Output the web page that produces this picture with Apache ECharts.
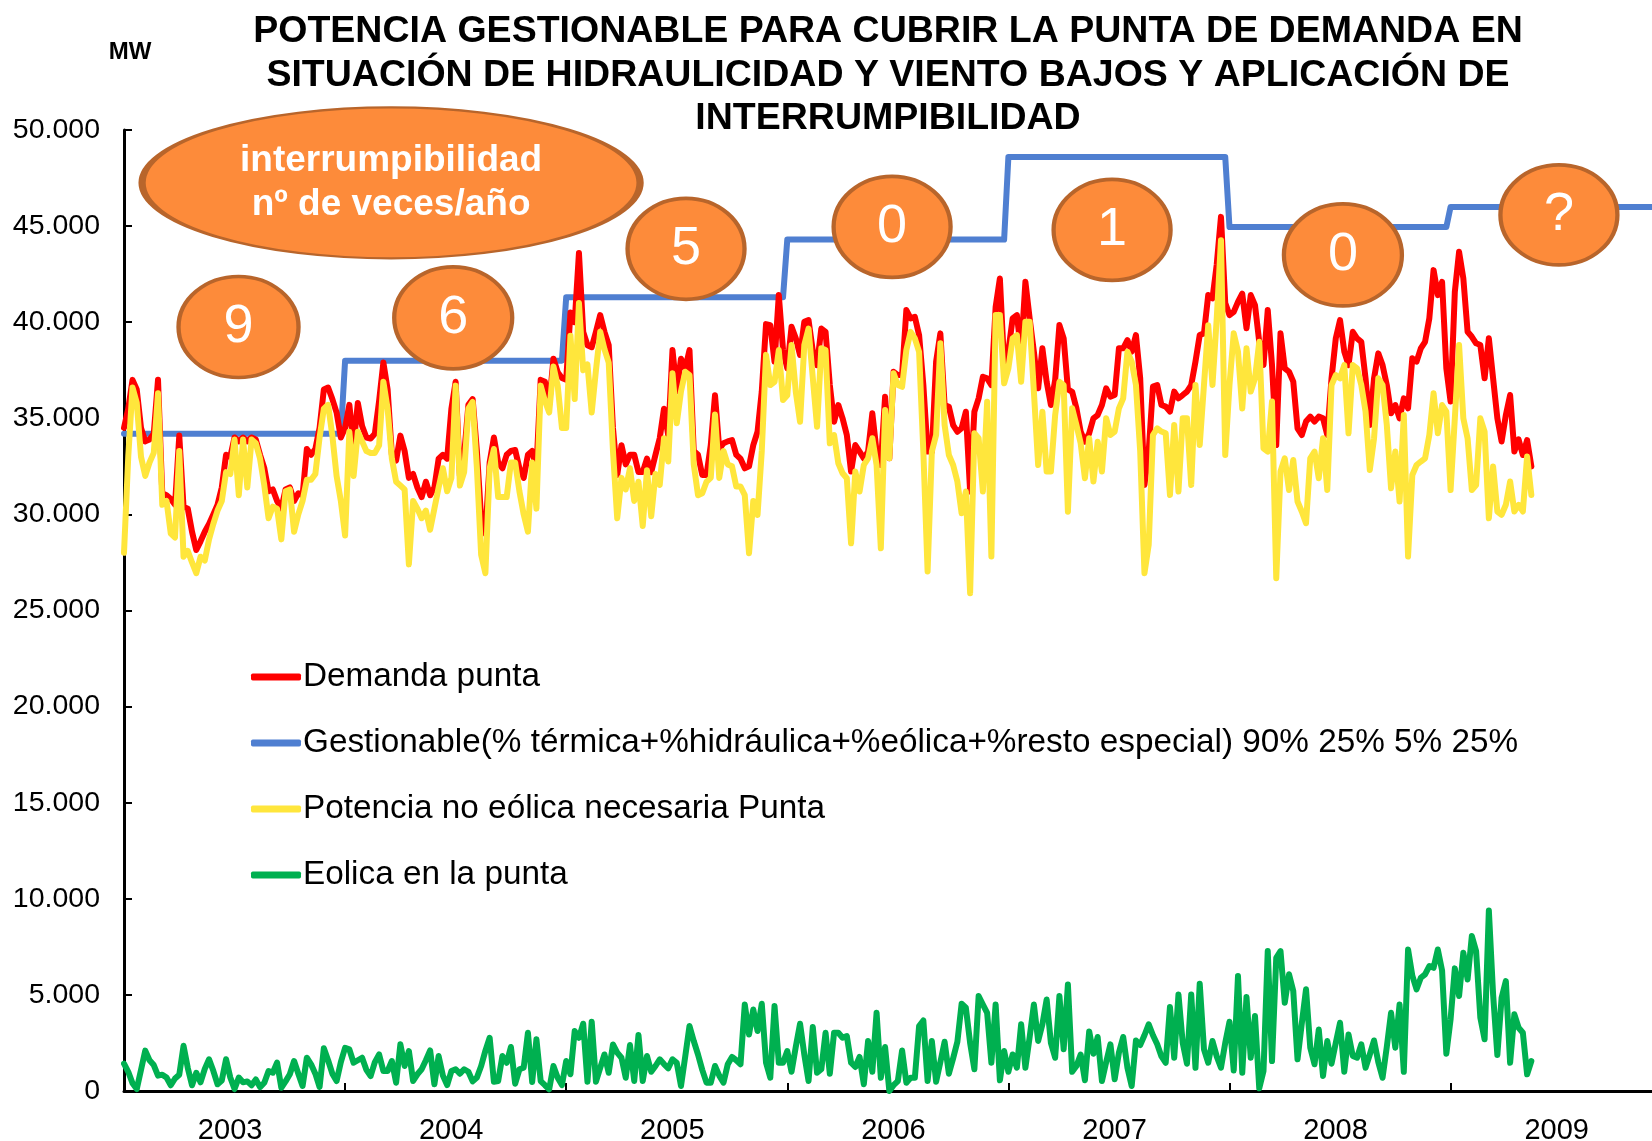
<!DOCTYPE html>
<html>
<head>
<meta charset="utf-8">
<script src="https://cdn.jsdelivr.net/npm/echarts@6/dist/echarts.min.js"></script>
<style>
html,body{margin:0;padding:0;background:#ffffff;}
#chart{width:1652px;height:1141px;}
</style>
</head>
<body>
<div id="chart"></div>
<script>
// ---------------- DATA (weekly values, first week = start of 2003) ----------------
const firstYear = 2003;
const weeksPerYear = 52;
const yearTickValues = [2004, 2005, 2006, 2007, 2008, 2009];
const yearLabelValues = [2003.48, 2004.48, 2005.48, 2006.48, 2007.48, 2008.48, 2009.48];
const yearLabels = ['2003', '2004', '2005', '2006', '2007', '2008', '2009'];

// Gestionable (step per year)
const gestionableYears = [2003, 2004, 2005, 2006, 2007, 2008, 2009];
const gestionableLevels = [34200, 38000, 41300, 44300, 48600, 44950, 46000];

// Demanda punta (MW)
const demandaPunta = [
  // 2003
  34500,35500,37000,36500,34500,33800,33900,34200,37000,31100,
  31000,30800,30500,34100,30400,30300,29100,28150,28600,29100,
  29500,30000,30500,31400,33100,33000,34000,33800,34000,33800,
  34000,33900,33100,32400,31200,31300,30700,30300,31300,31400,
  30700,31100,31000,33400,33100,33400,34500,36500,36600,36000,
  35300,34000,
  // 2004
  34500,35700,33600,35800,34600,34000,33950,34200,35900,37900,
  36500,33100,32800,34100,33300,31900,32100,31400,30900,31700,
  31000,31400,32900,33100,32900,35500,36900,32000,33100,35700,
  36000,33300,29800,29000,32700,34000,32700,32400,33100,33300,
  33350,32400,31900,33100,33300,32400,37000,36900,35700,38100,
  37400,37100,
  // 2005
  37000,40500,40000,43600,39500,38800,38700,39500,40370,39500,
  38800,34500,32050,33600,32600,33100,33100,32200,32200,32900,
  32200,33100,33960,35500,34100,38550,36400,38100,37600,38550,
  33300,33100,32050,32050,33600,36200,33400,33700,33800,33870,
  33100,32900,32400,32500,33600,34300,36400,39900,39850,37940,
  41410,38550,
  // 2006
  37600,39760,39160,38290,40020,40110,38500,37770,39670,39500,
  36730,34820,35690,35000,34130,32230,33610,33270,32920,33270,
  35260,33270,32570,36120,32920,37420,37250,37250,40630,40200,
  40280,39330,36730,33270,33270,37940,39420,35690,35600,34650,
  34300,34480,35340,31190,35340,36040,37160,37080,36730,40800,
  42270,37770,
  // 2007
  38500,40200,40370,38460,42100,40200,38460,36560,38640,36900,
  35690,36990,39850,39160,36500,36380,35520,34300,33780,34220,
  35000,35170,35690,36560,36130,36210,38640,38640,39070,38470,
  39330,37080,31530,33270,36650,36730,35690,35610,35350,36390,
  36040,36210,36390,36730,37950,39330,39420,41410,41240,43000,
  45480,41000,
  // 2008
  40370,40540,41060,41490,39680,41410,40890,38980,37770,40630,
  37770,33610,39420,37600,37420,36910,34480,34130,34830,35090,
  34830,35090,35000,34130,37080,39160,40110,38470,37770,39500,
  39160,38980,37080,34650,37080,38380,37770,36730,35260,35690,
  35000,36040,35520,38120,37950,38640,38980,40200,42710,41410,
  42100,37600,
  // 2009
  35870,41580,43660,42280,39500,39240,38900,38810,37080,39160,
  37080,35000,33790,35170,36210,33270,33900,33090,33870,32490
];

// Potencia no eólica necesaria Punta (MW)
const potenciaNoEolica = [
  // 2003
  28000,33000,36600,35800,33000,32000,32700,33200,36300,30500,
  30700,29000,28800,33300,27800,28100,27500,26940,27800,27600,
  28700,29500,30200,30700,32200,32100,33900,31000,33900,31400,
  33900,33700,32900,31500,29800,30400,30300,28700,31200,31300,
  29100,30000,30700,31800,31800,32100,34000,35500,35700,34100,
  32000,30700,
  // 2004
  28900,34300,32000,34300,33800,33300,33200,33200,33600,36900,
  35500,32900,31700,31500,31300,27400,30700,30300,29800,30200,
  29200,30300,31400,32400,31200,31900,36700,31500,32200,35500,
  35850,32400,27900,26940,32400,33400,30900,30900,30900,32700,
  32700,31200,30000,29100,32700,30300,36700,35900,35300,37700,
  36700,34500,
  // 2005
  34500,39300,36000,41000,37500,37800,35300,37500,39500,38600,
  37900,33300,29800,31900,31300,32400,30700,31700,29400,32300,
  29900,32100,31530,33960,32750,37340,34740,36400,37420,37250,
  32600,31000,31100,31700,31900,35200,31900,33300,32600,32500,
  31450,31450,31000,27980,30700,29970,33300,38300,36730,36900,
  38550,35950,
  // 2006
  36200,38810,36380,34820,38810,39670,37100,34560,38640,38550,
  33700,34130,32660,32140,31880,28500,32230,31190,32570,32920,
  33960,32570,28240,35430,32920,37340,36730,36640,38550,39500,
  39160,38460,33270,27030,33270,34130,38900,34650,33090,32570,
  31710,30060,31190,25900,34220,33960,31190,35860,27810,40370,
  40370,36820,
  // 2007
  37600,39160,39330,36900,40020,40020,36380,32570,35340,32230,
  32230,35170,36900,36730,30140,35520,34650,33700,31880,33960,
  31710,33780,32230,35000,34130,34310,35520,36040,38460,37950,
  36730,33270,26940,28420,34130,34480,34310,34220,31010,34650,
  31190,35000,35000,31530,36730,33610,36730,39840,36730,40200,
  44270,33090,
  // 2008
  36730,39420,38470,35510,38640,36390,37080,38980,33440,33270,
  35870,26680,32230,32920,31270,32830,30670,30150,29540,32920,
  33270,31880,33960,31270,36730,37250,37080,37770,34220,37770,
  37600,36730,35350,32310,33960,37080,36730,34650,31360,33270,
  30670,35170,27810,32050,32570,32750,32920,34130,36300,34220,
  35690,35350,
  // 2009
  31270,35000,38810,35000,33960,31270,31530,35000,34310,29800,
  32490,30150,29980,30500,31710,30150,30500,30150,33010,31010
];

// Eólica en la punta (MW)
const eolicaPunta = [
  // 2003
  1420,1000,400,100,1100,2100,1600,1350,800,850,
  700,300,650,850,2350,1200,300,950,450,1150,
  1650,1050,350,550,1650,700,100,700,450,500,
  300,600,200,430,1040,950,1480,170,500,870,
  1560,900,260,1730,1390,900,210,2220,1600,900,
  520,1500,
  // 2004
  2250,2170,1470,1600,1730,1100,780,1500,1900,1040,
  1040,1560,430,2430,1300,2080,520,870,1130,1600,
  2110,350,1820,800,310,1040,1130,900,1130,1000,
  500,700,1300,2100,2770,480,520,1820,1470,2290,
  380,1130,1210,3030,470,2690,520,300,90,1300,
  690,310,
  // 2005
  1560,870,3120,2770,3500,485,3600,485,1200,1900,
  950,2420,2000,1730,690,2390,520,2910,520,1820,
  1000,1300,1650,1400,1180,1650,1470,260,1800,3380,
  2600,1900,1100,433,433,1300,800,433,1390,1770,
  1600,1390,4500,2940,4240,3120,4540,1470,690,4420,
  1470,1470,
  // 2006
  2080,1000,2300,3500,1900,520,3330,950,1130,3030,
  900,3030,3030,2770,2860,1470,1250,1770,350,2600,
  1000,4070,690,2290,0,300,520,2110,433,690,
  690,3380,3670,520,2600,485,1500,2560,900,1700,
  2560,4540,4330,2500,1130,4940,4500,4070,1470,4500,
  555,2080,
  // 2007
  1000,1900,1210,3470,1210,2800,4500,2600,3470,4760,
  2500,1730,4940,2170,5540,1000,1300,1900,555,3100,
  1940,2810,520,1500,2430,610,2000,2810,1210,260,
  2630,2390,2900,3470,2900,2430,1800,1470,4370,1730,
  5020,2500,1420,5020,1210,5580,2170,1470,2600,1800,
  1210,2500,
  // 2008
  3600,1070,5980,950,4890,1730,3900,140,1040,7280,
  1560,6930,7280,4590,6070,5200,1650,3500,5290,2250,
  1390,3200,780,2600,1420,2500,3550,1000,2940,1820,
  1730,2430,1210,1900,2630,1500,690,2300,4070,2250,
  4500,1000,7360,6000,5290,5890,6070,6500,6410,7360,
  6270,1940,
  // 2009
  3730,6380,4940,7190,5800,8060,7280,3810,2690,9390,
  5020,1870,4850,5720,1470,3990,3290,3030,866,1560
];

// Annotations (interrumpibilidad: nº de veces/año)
const annotationLabels = ['interrumpibilidad\nnº de veces/año', '9', '6', '5', '0', '1', '0', '?'];
const annotationX = [2004.208, 2003.518, 2004.489, 2005.542, 2006.474, 2007.469, 2008.513, 2009.490];
const annotationY = [47250, 39750, 40230, 43820, 44960, 44800, 43500, 45580];
const annotationW = [498, 120, 118, 117, 117, 117, 118, 117];
const annotationH = [151, 101, 102, 101, 101, 101, 102, 100];

// ---------------- CHART ----------------
const FONT = '"Liberation Sans", Arial, Helvetica, sans-serif';
const xMin = 2003;
const xMax = 2009.911;

const toPoints = arr => arr.map((v, i) => [firstYear + i / weeksPerYear, v]);

const gestionablePoints = [];
gestionableYears.forEach((yr, k) => {
  const lvl = gestionableLevels[k];
  gestionablePoints.push([yr, lvl]);
  const end = (k === gestionableYears.length - 1) ? xMax : yr + (weeksPerYear - 1) / weeksPerYear;
  gestionablePoints.push([end, lvl]);
});

const markData = annotationLabels.map((lab, k) => {
  const big = k === 0;
  return {
    name: lab,
    coord: [annotationX[k], annotationY[k]],
    symbolSize: [annotationW[k], annotationH[k]],
    label: big ? {
      fontSize: 37, fontWeight: 'bold', lineHeight: 44
    } : {
      fontSize: 54, fontWeight: 'normal'
    }
  };
});

const chart = echarts.init(document.getElementById('chart'), null, {renderer: 'canvas'});

const names = [
  'Demanda punta',
  'Gestionable(% térmica+%hidráulica+%eólica+%resto especial) 90% 25% 5% 25%',
  'Potencia no eólica necesaria Punta',
  'Eolica en la punta'
];

chart.setOption({
  animation: false,
  backgroundColor: '#ffffff',
  textStyle: {fontFamily: FONT},
  title: {
    text: 'POTENCIA GESTIONABLE PARA CUBRIR LA PUNTA DE DEMANDA EN\nSITUACIÓN DE HIDRAULICIDAD Y VIENTO BAJOS Y APLICACIÓN DE\nINTERRUMPIBILIDAD',
    left: 888,
    top: 10,
    padding: 0,
    textAlign: 'center',
    textStyle: {fontFamily: FONT, fontWeight: 'bold', fontSize: 37.5, lineHeight: 43.5, color: '#000000'}
  },
  legend: {
    orient: 'vertical',
    left: 246,
    top: 654,
    itemWidth: 50,
    itemHeight: 7,
    itemGap: 30,
    icon: 'roundRect',
    data: names,
    textStyle: {fontFamily: FONT, fontSize: 33.3, lineHeight: 36, color: '#000000', padding: [0, 0, 0, -3]},
    selectedMode: false
  },
  grid: {
    left: 124, right: 0, top: 130, bottom: 50,
    containLabel: false,
    outerBoundsMode: 'none'
  },
  xAxis: {
    type: 'value',
    min: xMin,
    max: xMax,
    axisLine: {show: true, lineStyle: {color: '#000000', width: 3}},
    axisTick: {show: true, inside: true, length: 8, lineStyle: {color: '#000000', width: 2}, customValues: yearTickValues},
    axisLabel: {
      show: true,
      customValues: yearLabelValues,
      formatter: v => yearLabels[Math.floor(v) - firstYear],
      fontFamily: FONT, fontSize: 29, color: '#000000', margin: 25
    },
    splitLine: {show: false}
  },
  yAxis: {
    type: 'value',
    min: 0,
    max: 50000,
    interval: 5000,
    name: 'MW',
    nameLocation: 'end',
    nameGap: 66,
    nameTextStyle: {fontFamily: FONT, fontWeight: 'bold', fontSize: 24, color: '#000000', padding: [0, 0, 0, 12]},
    axisLine: {show: true, lineStyle: {color: '#000000', width: 3}},
    axisTick: {show: true, inside: true, length: 8, lineStyle: {color: '#000000', width: 2}},
    axisLabel: {
      fontFamily: FONT, fontSize: 28.5, color: '#000000', margin: 24,
      formatter: v => v === 0 ? '0' : (v / 1000) + '.000'
    },
    splitLine: {show: false}
  },
  series: [
    {
      name: names[1], type: 'line', data: gestionablePoints, showSymbol: false, symbol: 'none',
      color: '#4F7FD1', lineStyle: {color: '#4F7FD1', width: 6, join: 'round', cap: 'round'}, z: 2
    },
    {
      name: names[0], type: 'line', data: toPoints(demandaPunta), showSymbol: false, symbol: 'none',
      color: '#FF0000', lineStyle: {color: '#FF0000', width: 6, join: 'round', cap: 'round'}, z: 2
    },
    {
      name: names[2], type: 'line', data: toPoints(potenciaNoEolica), showSymbol: false, symbol: 'none',
      color: '#FFE63C', lineStyle: {color: '#FFE63C', width: 6, join: 'round', cap: 'round'}, z: 2
    },
    {
      name: names[3], type: 'line', data: toPoints(eolicaPunta), showSymbol: false, symbol: 'none',
      color: '#00B050', lineStyle: {color: '#00B050', width: 6, join: 'round', cap: 'round'}, z: 5,
      markPoint: {
        symbol: 'circle',
        silent: true,
        animation: false,
        itemStyle: {color: '#FD8B3A', borderColor: '#B8652B', borderWidth: 4},
        label: {show: true, position: 'inside', color: '#ffffff', fontFamily: FONT, formatter: p => p.name},
        data: markData
      }
    }
  ]
});
</script>
</body>
</html>
